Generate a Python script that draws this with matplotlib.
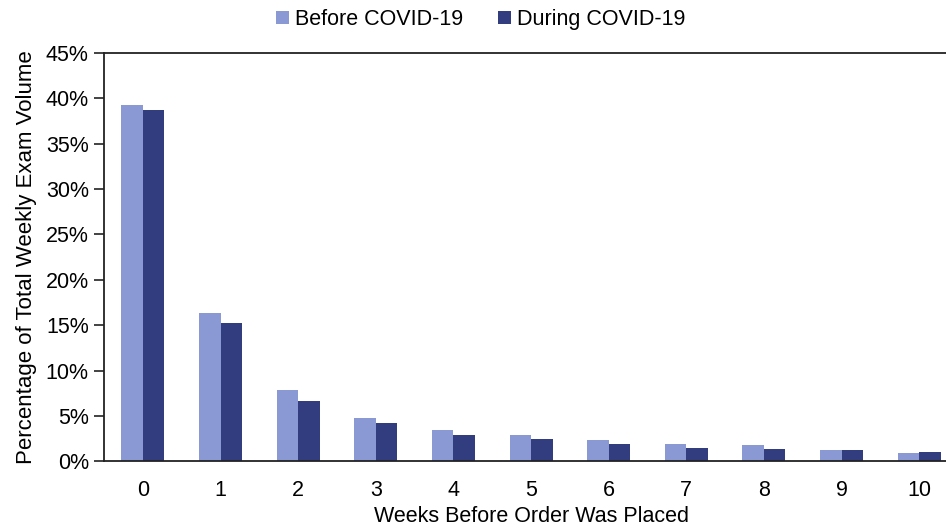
import matplotlib
matplotlib.use("Agg")
import matplotlib.pyplot as plt
import numpy as np
from matplotlib.ticker import FuncFormatter

weeks = ["0", "1", "2", "3", "4", "5", "6", "7", "8", "9", "10"]
before = [39.2, 16.4, 7.9, 4.8, 3.5, 2.9, 2.4, 1.9, 1.8, 1.3, 0.9]
during = [38.7, 15.2, 6.7, 4.2, 2.9, 2.5, 1.9, 1.5, 1.4, 1.3, 1.0]
series_names = ["Before COVID-19", "During COVID-19"]

plt.rcParams['font.family'] = ['Liberation Sans', 'DejaVu Sans']

fig = plt.figure(figsize=(9.46, 5.27), dpi=100)
ax = fig.add_axes([0.110, 0.1243, 0.9027, 0.7757])

x = np.arange(len(weeks))
w = 0.277
c1 = "#8A98D3"
c2 = "#323D80"
ax.bar(x - w/2, before, width=w, color=c1, label=series_names[0])
ax.bar(x + w/2, during, width=w, color=c2, label=series_names[1])

ax.set_xlim(-0.5, 10.5)
ax.set_ylim(0, 45)
ax.set_yticks(np.arange(0, 46, 5))
ax.yaxis.set_major_formatter(FuncFormatter(lambda v, p: f"{int(v)}%"))
ax.set_xticks(x)
ax.set_xticklabels(weeks)

for s in ["left", "bottom", "top"]:
    ax.spines[s].set_color("#222222")
    ax.spines[s].set_linewidth(1.3)
ax.spines["right"].set_visible(False)

ax.tick_params(axis="y", direction="out", length=7, width=1.2, labelsize=15.5, pad=4, color="#222222")
ax.tick_params(axis="x", length=0, labelsize=15.5, pad=13)

ax.set_xlabel("Weeks Before Order Was Placed", fontsize=15.5, labelpad=4)
ax.set_ylabel("Percentage of Total Weekly Exam Volume", fontsize=16, labelpad=6)

fig.legend(loc="center", bbox_to_anchor=(0.508, 0.963), ncol=2, frameon=False,
           fontsize=15.5, handlelength=0.6, handleheight=0.6, handletextpad=0.3,
           columnspacing=1.6)

fig.savefig("out.png", dpi=100)
